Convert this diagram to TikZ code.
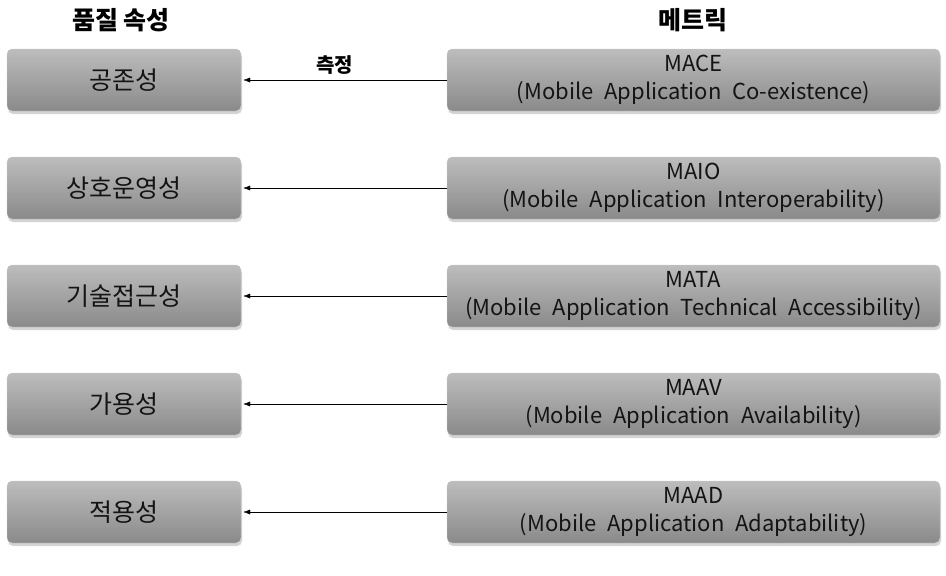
\documentclass[tikz,border=0pt]{standalone}
\usepackage{fontspec}
\setmainfont{Noto Sans CJK KR}
\newfontfamily\metricfont[WordSpace=2.2]{Noto Sans CJK KR}
\usepackage{tikz}
\usetikzlibrary{positioning,shadows,arrows.meta}
\tikzstyle{attr} = [rectangle, draw=gray!40, shading=axis, top color=black!26, middle color=black!38,
    bottom color=black!46, rounded corners=5pt, minimum width=234pt, minimum height=62pt,
    text=black!92, font=\fontsize{25}{28}\selectfont,
    drop shadow={opacity=0.35, shadow xshift=1pt, shadow yshift=-3pt}]
\tikzstyle{metric} = [attr, minimum width=493pt, align=center, font=\metricfont\fontsize{22}{28}\selectfont]
\tikzstyle{head} = [font=\bfseries\fontsize{25}{28}\selectfont]
\tikzstyle{measure} = [->, >={Latex[length=7pt,width=5pt]}, thin]

\begin{document}
\begin{tikzpicture}[x=1pt, y=1pt, node distance=108pt]
                      \useasboundingbox (0,0) rectangle (946,-576);
                      % Headers
                      \node [head] (hattr) at (121,-20) {품질 속성};
                      \node [head] (hmetric) at (693,-20) {메트릭};

                      % Quality attributes
                      \node [attr] (q1) at (124,-80) {공존성};
                      \node [attr, below of=q1] (q2) {상호운영성};
                      \node [attr, below of=q2] (q3) {기술접근성};
                      \node [attr, below of=q3] (q4) {가용성};
                      \node [attr, below of=q4] (q5) {적용성};

                      % Metrics
                      \node [metric] (m1) at (693.5,-80) {MACE\\(Mobile Application Co-existence)};
                      \node [metric, below of=m1] (m2) {MAIO\\(Mobile Application Interoperability)};
                      \node [metric, below of=m2] (m3) {MATA\\(Mobile Application Technical Accessibility)};
                      \node [metric, below of=m3] (m4) {MAAV\\(Mobile Application Availability)};
                      \node [metric, below of=m4] (m5) {MAAD\\(Mobile Application Adaptability)};

                      % Connections
                      \draw [measure] (m1.west) -- node [above, pos=0.55, font=\bfseries\fontsize{20}{22}\selectfont, yshift=2pt] {측정} ([xshift=2pt]q1.east);
                      \foreach \i in {2,...,5}
                        \draw [measure] (m\i.west) -- ([xshift=2pt]q\i.east);

                  \end{tikzpicture}
\end{document}
